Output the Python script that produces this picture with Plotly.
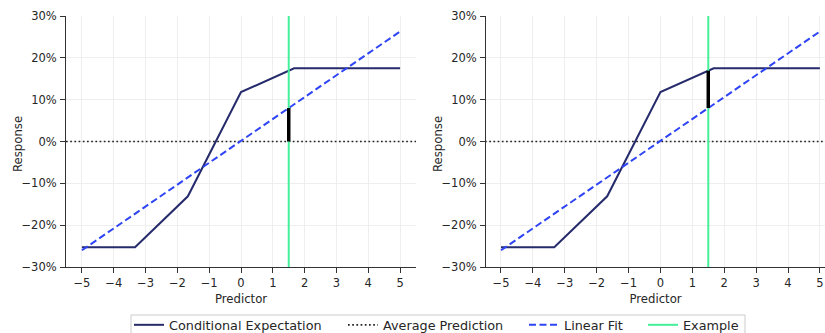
import numpy as np
import plotly.graph_objects as go

# Data
x_points = [-5, -3.33, -1.67, 0, 1.67, 5]
cond_exp = [-0.253, -0.253, -0.131, 0.118, 0.175, 0.175]
fit_x = [-5, 5]
fit_y = [-0.26, 0.263]
avg_x = [-5.5, 5.5]
avg_y = [0.0, 0.0]
example_x = 1.5
y_ticks = [-0.3, -0.2, -0.1, 0, 0.1, 0.2, 0.3]
x_ticks = [-5, -4, -3, -2, -1, 0, 1, 2, 3, 4, 5]
series_names = ['Conditional Expectation', 'Average Prediction', 'Linear Fit', 'Example']

NAVY = '#262b6c'
BLUE = '#2f45f5'
GREEN = '#45f09a'
TXT = '#262626'
W, H = 825, 333

fit_at_ex = float(np.interp(example_x, fit_x, fit_y))
ce_at_ex = float(np.interp(example_x, x_points, cond_exp))

legend_ids = ['legend', 'legend2', 'legend3', 'legend4']

fig = go.Figure()
panels = [('x', 'y', 0.0, fit_at_ex), ('x2', 'y2', fit_at_ex, ce_at_ex)]
for i, (xa, ya, s0, s1) in enumerate(panels):
    show = i == 0
    fig.add_trace(go.Scatter(x=x_points, y=cond_exp, mode='lines', name=series_names[0],
                             line=dict(color=NAVY, width=2), xaxis=xa, yaxis=ya,
                             showlegend=show, legend=legend_ids[0]))
    fig.add_trace(go.Scatter(x=avg_x, y=avg_y, mode='lines', name=series_names[1],
                             line=dict(color='#222222', width=1.7, dash='1.7px,2.5px'), xaxis=xa, yaxis=ya,
                             showlegend=show, legend=legend_ids[1]))
    fig.add_trace(go.Scatter(x=fit_x, y=fit_y, mode='lines', name=series_names[2],
                             line=dict(color=BLUE, width=2, dash='7px,3.5px'), xaxis=xa, yaxis=ya,
                             showlegend=show, legend=legend_ids[2]))
    fig.add_trace(go.Scatter(x=[example_x, example_x], y=[-0.3, 0.3], mode='lines', name=series_names[3],
                             line=dict(color=GREEN, width=2), xaxis=xa, yaxis=ya,
                             showlegend=show, legend=legend_ids[3]))
    fig.add_trace(go.Scatter(x=[example_x, example_x], y=[s0, s1], mode='lines',
                             line=dict(color='black', width=3.5), xaxis=xa, yaxis=ya, showlegend=False,
                             hoverinfo='skip'))

axis_common = dict(showline=True, linecolor='#333333', linewidth=1, ticks='outside', ticklen=5,
                   tickcolor='#333333', showgrid=True, gridcolor='#eeeeee', gridwidth=1,
                   zeroline=False, tickfont=dict(size=11.5, color=TXT), automargin=False, mirror=False)

ydom = [1 - 267 / H, 1 - 16 / H]
xtitle = dict(text='Predictor', font=dict(size=11.7, color=TXT), standoff=6)

layout = dict(
    width=W, height=H, margin=dict(l=0, r=0, t=0, b=0, autoexpand=False),
    paper_bgcolor='white', plot_bgcolor='white',
    font=dict(family='DejaVu Sans', color=TXT, size=11.5),
    xaxis=dict(domain=[66 / W, 416 / W], range=[-5.5, 5.5], tickvals=x_ticks, ticklabelstandoff=0,
               title=xtitle, anchor='y', **axis_common),
    yaxis=dict(domain=ydom, range=[-0.3, 0.3], tickvals=y_ticks, tickformat='.0%', ticklabelstandoff=1,
               anchor='x', **axis_common),
    xaxis2=dict(domain=[486 / W, 1.0], range=[-5.47, 5.16], tickvals=x_ticks, ticklabelstandoff=0,
                title=xtitle, anchor='y2', **axis_common),
    yaxis2=dict(domain=ydom, range=[-0.3, 0.3], tickvals=y_ticks, tickformat='.0%', ticklabelstandoff=1,
                anchor='x2', **axis_common),
    shapes=[dict(type='rect', xref='paper', yref='paper', x0=131 / W, x1=745 / W,
                 y0=-0.1, y1=1 - 315 / H, line=dict(color='#cccccc', width=1),
                 fillcolor='rgba(0,0,0,0)', layer='above')],
    annotations=[dict(text='Response', textangle=-90, xref='paper', yref='paper',
                      x=xc / W, y=1 - 144 / H, showarrow=False, xanchor='center', yanchor='middle',
                      font=dict(size=11.7, color=TXT)) for xc in (18, 438)],
)
legend_left = [129, 343, 524, 643]
for lid, lx in zip(legend_ids, legend_left):
    layout[lid] = dict(orientation='h', xref='container', yref='container', x=lx / W, xanchor='left',
                       y=1 - 325 / H, yanchor='middle', borderwidth=0, bgcolor='rgba(0,0,0,0)',
                       font=dict(size=12.8, color=TXT), itemwidth=30)
fig.update_layout(**layout)

fig.write_html('out.html')
